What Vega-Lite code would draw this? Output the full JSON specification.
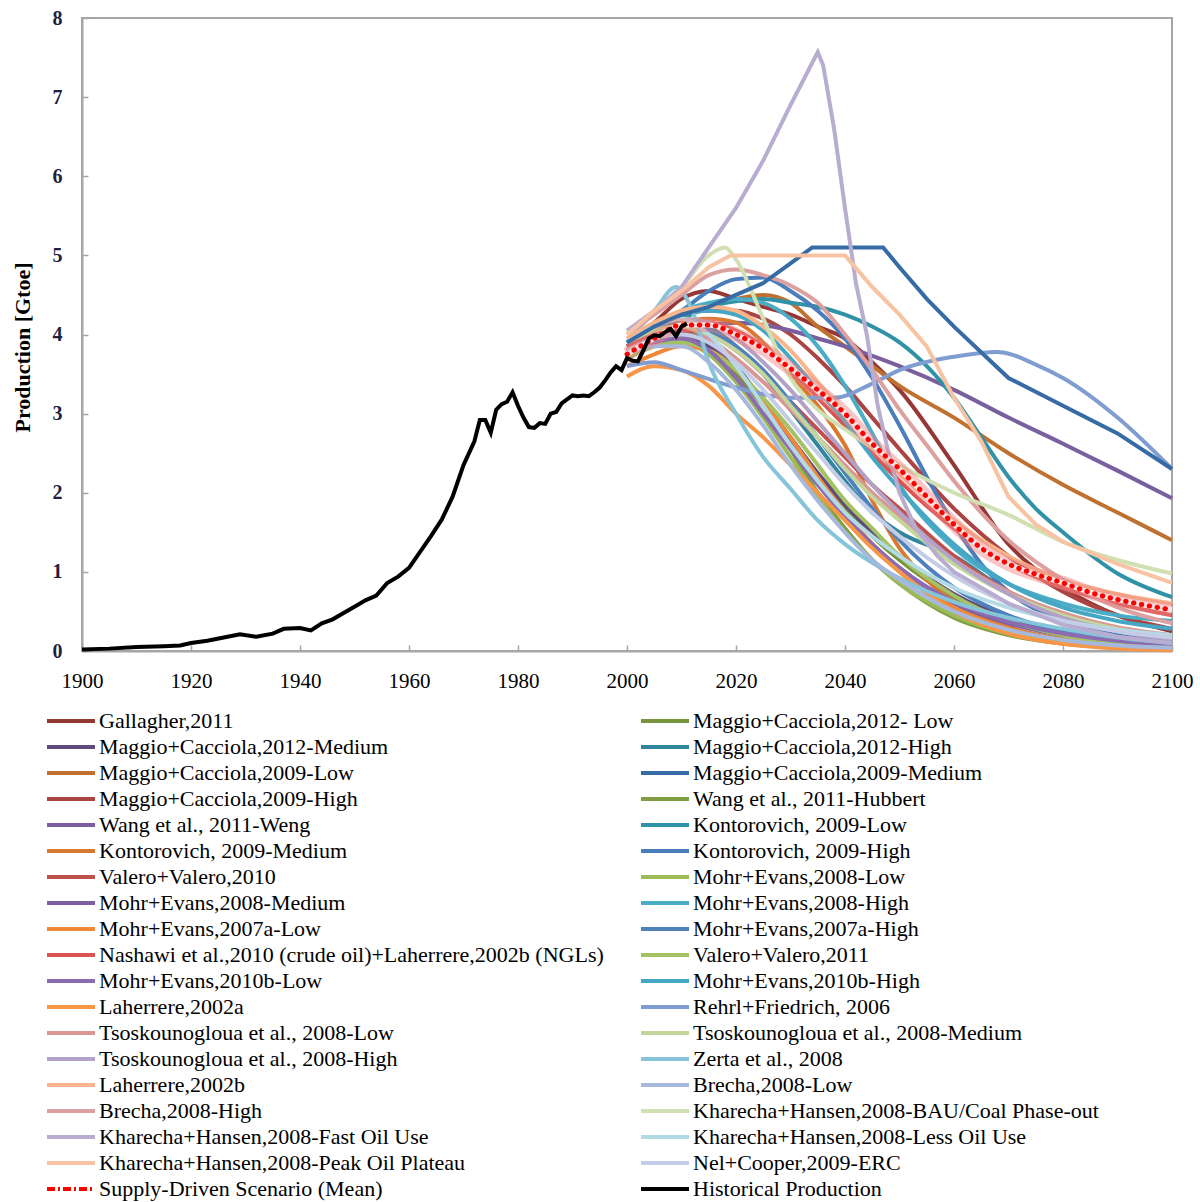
{
"$schema": "https://vega.github.io/schema/vega-lite/v6.json",
"width": 1090, "height": 633,
"autosize": {"type": "none"},
"padding": {"left": 82, "top": 18, "right": 28, "bottom": 551},
"config": {"font": "Liberation Serif", "view": {"stroke": "#a6a6a6", "strokeWidth": 2}},
"datasets": {"names": [
{"id":1,"name":"Gallagher,2011"},{"id":2,"name":"Maggio+Cacciola,2012- Low"},{"id":3,"name":"Maggio+Cacciola,2012-Medium"},{"id":4,"name":"Maggio+Cacciola,2012-High"},{"id":5,"name":"Maggio+Cacciola,2009-Low"},{"id":6,"name":"Maggio+Cacciola,2009-Medium"},{"id":7,"name":"Maggio+Cacciola,2009-High"},{"id":8,"name":"Wang et al., 2011-Hubbert"},{"id":9,"name":"Wang et al., 2011-Weng"},{"id":10,"name":"Kontorovich, 2009-Low"},{"id":11,"name":"Kontorovich, 2009-Medium"},{"id":12,"name":"Kontorovich, 2009-High"},{"id":13,"name":"Valero+Valero,2010"},{"id":14,"name":"Mohr+Evans,2008-Low"},{"id":15,"name":"Mohr+Evans,2008-Medium"},{"id":16,"name":"Mohr+Evans,2008-High"},{"id":17,"name":"Mohr+Evans,2007a-Low"},{"id":18,"name":"Mohr+Evans,2007a-High"},{"id":19,"name":"Nashawi et al.,2010 (crude oil)+Laherrere,2002b (NGLs)"},{"id":20,"name":"Valero+Valero,2011"},{"id":21,"name":"Mohr+Evans,2010b-Low"},{"id":22,"name":"Mohr+Evans,2010b-High"},{"id":23,"name":"Laherrere,2002a"},{"id":24,"name":"Rehrl+Friedrich,  2006"},{"id":25,"name":"Tsoskounogloua et al., 2008-Low"},{"id":26,"name":"Tsoskounogloua et al., 2008-Medium"},{"id":27,"name":"Tsoskounogloua et al., 2008-High"},{"id":28,"name":"Zerta et al., 2008"},{"id":29,"name":"Laherrere,2002b"},{"id":30,"name":"Brecha,2008-Low"},{"id":31,"name":"Brecha,2008-High"},{"id":32,"name":"Kharecha+Hansen,2008-BAU/Coal Phase-out"},{"id":33,"name":"Kharecha+Hansen,2008-Fast Oil Use"},{"id":34,"name":"Kharecha+Hansen,2008-Less Oil Use"},{"id":35,"name":"Kharecha+Hansen,2008-Peak Oil Plateau"},{"id":36,"name":"Nel+Cooper,2009-ERC"},{"id":37,"name":"Supply-Driven Scenario (Mean)"},{"id":38,"name":"Historical Production"}
]},
"data": {"values": [
{"id":1,"year":2000,"value":3.9},{"id":1,"year":2005,"value":4.15},{"id":1,"year":2010,"value":4.45},{"id":1,"year":2015,"value":4.55},{"id":1,"year":2020,"value":4.45},{"id":1,"year":2025,"value":4.35},{"id":1,"year":2030,"value":4.25},{"id":1,"year":2035,"value":4.1},{"id":1,"year":2040,"value":3.95},{"id":1,"year":2045,"value":3.65},{"id":1,"year":2050,"value":3.3},{"id":1,"year":2060,"value":2.35},{"id":1,"year":2070,"value":1.35},{"id":1,"year":2080,"value":0.8},{"id":1,"year":2090,"value":0.45},{"id":1,"year":2100,"value":0.25},
{"id":2,"year":2000,"value":3.85},{"id":2,"year":2005,"value":3.95},{"id":2,"year":2010,"value":3.95},{"id":2,"year":2015,"value":3.8},{"id":2,"year":2020,"value":3.5},{"id":2,"year":2025,"value":3.1},{"id":2,"year":2030,"value":2.65},{"id":2,"year":2035,"value":2.2},{"id":2,"year":2040,"value":1.8},{"id":2,"year":2045,"value":1.45},{"id":2,"year":2050,"value":1.15},{"id":2,"year":2060,"value":0.68},{"id":2,"year":2070,"value":0.38},{"id":2,"year":2080,"value":0.2},{"id":2,"year":2090,"value":0.11},{"id":2,"year":2100,"value":0.06},
{"id":3,"year":2000,"value":3.8},{"id":3,"year":2005,"value":3.95},{"id":3,"year":2010,"value":4.0},{"id":3,"year":2015,"value":3.85},{"id":3,"year":2020,"value":3.55},{"id":3,"year":2025,"value":3.15},{"id":3,"year":2030,"value":2.7},{"id":3,"year":2035,"value":2.25},{"id":3,"year":2040,"value":1.85},{"id":3,"year":2045,"value":1.5},{"id":3,"year":2050,"value":1.2},{"id":3,"year":2060,"value":0.72},{"id":3,"year":2070,"value":0.42},{"id":3,"year":2080,"value":0.25},{"id":3,"year":2090,"value":0.15},{"id":3,"year":2100,"value":0.09},
{"id":4,"year":2000,"value":3.9},{"id":4,"year":2005,"value":4.1},{"id":4,"year":2010,"value":4.2},{"id":4,"year":2015,"value":4.1},{"id":4,"year":2020,"value":3.85},{"id":4,"year":2025,"value":3.5},{"id":4,"year":2030,"value":3.05},{"id":4,"year":2035,"value":2.6},{"id":4,"year":2040,"value":2.15},{"id":4,"year":2045,"value":1.75},{"id":4,"year":2050,"value":1.5},{"id":4,"year":2060,"value":1.2},{"id":4,"year":2070,"value":0.75},{"id":4,"year":2080,"value":0.45},{"id":4,"year":2090,"value":0.28},{"id":4,"year":2100,"value":0.18},
{"id":5,"year":2000,"value":3.9},{"id":5,"year":2005,"value":4.05},{"id":5,"year":2010,"value":4.2},{"id":5,"year":2015,"value":4.35},{"id":5,"year":2020,"value":4.45},{"id":5,"year":2025,"value":4.5},{"id":5,"year":2030,"value":4.4},{"id":5,"year":2035,"value":4.1},{"id":5,"year":2040,"value":3.85},{"id":5,"year":2045,"value":3.6},{"id":5,"year":2050,"value":3.35},{"id":5,"year":2060,"value":2.95},{"id":5,"year":2070,"value":2.5},{"id":5,"year":2080,"value":2.1},{"id":5,"year":2090,"value":1.75},{"id":5,"year":2100,"value":1.4},
{"id":6,"year":2000,"value":3.9},{"id":6,"year":2005,"value":4.1},{"id":6,"year":2010,"value":4.25},{"id":6,"year":2015,"value":4.35},{"id":6,"year":2020,"value":4.5},{"id":6,"year":2025,"value":4.65},{"id":6,"year":2030,"value":4.9},{"id":6,"year":2034,"value":5.1},{"id":6,"year":2047,"value":5.1},{"id":6,"year":2050,"value":4.85},{"id":6,"year":2055,"value":4.45},{"id":6,"year":2060,"value":4.1},{"id":6,"year":2070,"value":3.45},{"id":6,"year":2080,"value":3.1},{"id":6,"year":2090,"value":2.75},{"id":6,"year":2100,"value":2.3},
{"id":7,"year":2000,"value":3.85},{"id":7,"year":2005,"value":4.05},{"id":7,"year":2010,"value":4.25},{"id":7,"year":2015,"value":4.3},{"id":7,"year":2020,"value":4.3},{"id":7,"year":2025,"value":4.2},{"id":7,"year":2030,"value":4.0},{"id":7,"year":2035,"value":3.7},{"id":7,"year":2040,"value":3.35},{"id":7,"year":2045,"value":2.95},{"id":7,"year":2050,"value":2.55},{"id":7,"year":2060,"value":1.8},{"id":7,"year":2070,"value":1.2},{"id":7,"year":2080,"value":0.75},{"id":7,"year":2090,"value":0.45},{"id":7,"year":2100,"value":0.28},
{"id":8,"year":2000,"value":3.8},{"id":8,"year":2005,"value":3.95},{"id":8,"year":2010,"value":4.05},{"id":8,"year":2015,"value":3.95},{"id":8,"year":2020,"value":3.6},{"id":8,"year":2025,"value":3.1},{"id":8,"year":2030,"value":2.55},{"id":8,"year":2035,"value":2.0},{"id":8,"year":2040,"value":1.55},{"id":8,"year":2045,"value":1.15},{"id":8,"year":2050,"value":0.85},{"id":8,"year":2060,"value":0.42},{"id":8,"year":2070,"value":0.2},{"id":8,"year":2080,"value":0.09},{"id":8,"year":2090,"value":0.04},{"id":8,"year":2100,"value":0.02},
{"id":9,"year":2000,"value":3.8},{"id":9,"year":2005,"value":3.95},{"id":9,"year":2010,"value":4.05},{"id":9,"year":2015,"value":4.12},{"id":9,"year":2020,"value":4.15},{"id":9,"year":2025,"value":4.12},{"id":9,"year":2030,"value":4.05},{"id":9,"year":2035,"value":3.95},{"id":9,"year":2040,"value":3.85},{"id":9,"year":2045,"value":3.73},{"id":9,"year":2050,"value":3.6},{"id":9,"year":2060,"value":3.3},{"id":9,"year":2070,"value":2.95},{"id":9,"year":2080,"value":2.62},{"id":9,"year":2090,"value":2.28},{"id":9,"year":2100,"value":1.93},
{"id":10,"year":2000,"value":3.9},{"id":10,"year":2005,"value":4.05},{"id":10,"year":2010,"value":4.2},{"id":10,"year":2015,"value":4.35},{"id":10,"year":2020,"value":4.42},{"id":10,"year":2025,"value":4.45},{"id":10,"year":2030,"value":4.4},{"id":10,"year":2035,"value":4.35},{"id":10,"year":2040,"value":4.25},{"id":10,"year":2045,"value":4.1},{"id":10,"year":2050,"value":3.9},{"id":10,"year":2055,"value":3.6},{"id":10,"year":2060,"value":3.2},{"id":10,"year":2065,"value":2.7},{"id":10,"year":2070,"value":2.2},{"id":10,"year":2075,"value":1.8},{"id":10,"year":2080,"value":1.5},{"id":10,"year":2090,"value":0.98},{"id":10,"year":2100,"value":0.68},
{"id":11,"year":2000,"value":3.85},{"id":11,"year":2005,"value":4.0},{"id":11,"year":2010,"value":4.15},{"id":11,"year":2015,"value":4.2},{"id":11,"year":2020,"value":4.15},{"id":11,"year":2025,"value":3.9},{"id":11,"year":2030,"value":3.5},{"id":11,"year":2035,"value":3.1},{"id":11,"year":2040,"value":2.6},{"id":11,"year":2045,"value":1.9},{"id":11,"year":2050,"value":1.3},{"id":11,"year":2055,"value":0.9},{"id":11,"year":2060,"value":0.62},{"id":11,"year":2070,"value":0.3},{"id":11,"year":2080,"value":0.15},{"id":11,"year":2090,"value":0.08},{"id":11,"year":2100,"value":0.04},
{"id":12,"year":2000,"value":3.9},{"id":12,"year":2005,"value":4.1},{"id":12,"year":2010,"value":4.3},{"id":12,"year":2015,"value":4.55},{"id":12,"year":2020,"value":4.7},{"id":12,"year":2025,"value":4.72},{"id":12,"year":2030,"value":4.55},{"id":12,"year":2035,"value":4.3},{"id":12,"year":2040,"value":3.95},{"id":12,"year":2045,"value":3.45},{"id":12,"year":2050,"value":2.85},{"id":12,"year":2055,"value":2.2},{"id":12,"year":2060,"value":1.6},{"id":12,"year":2065,"value":1.1},{"id":12,"year":2070,"value":0.75},{"id":12,"year":2080,"value":0.38},{"id":12,"year":2090,"value":0.2},{"id":12,"year":2100,"value":0.12},
{"id":13,"year":2000,"value":3.8},{"id":13,"year":2005,"value":3.95},{"id":13,"year":2010,"value":4.05},{"id":13,"year":2015,"value":4.0},{"id":13,"year":2020,"value":3.8},{"id":13,"year":2025,"value":3.5},{"id":13,"year":2030,"value":3.15},{"id":13,"year":2035,"value":2.8},{"id":13,"year":2040,"value":2.45},{"id":13,"year":2045,"value":2.1},{"id":13,"year":2050,"value":1.8},{"id":13,"year":2060,"value":1.2},{"id":13,"year":2070,"value":0.75},{"id":13,"year":2080,"value":0.45},{"id":13,"year":2090,"value":0.28},{"id":13,"year":2100,"value":0.18},
{"id":14,"year":2000,"value":3.7},{"id":14,"year":2005,"value":3.85},{"id":14,"year":2010,"value":3.9},{"id":14,"year":2015,"value":3.75},{"id":14,"year":2020,"value":3.4},{"id":14,"year":2025,"value":2.95},{"id":14,"year":2030,"value":2.45},{"id":14,"year":2035,"value":1.95},{"id":14,"year":2040,"value":1.5},{"id":14,"year":2045,"value":1.15},{"id":14,"year":2050,"value":0.85},{"id":14,"year":2060,"value":0.45},{"id":14,"year":2070,"value":0.22},{"id":14,"year":2080,"value":0.1},{"id":14,"year":2090,"value":0.05},{"id":14,"year":2100,"value":0.02},
{"id":15,"year":2000,"value":3.75},{"id":15,"year":2005,"value":3.9},{"id":15,"year":2010,"value":4.0},{"id":15,"year":2015,"value":3.9},{"id":15,"year":2020,"value":3.6},{"id":15,"year":2025,"value":3.15},{"id":15,"year":2030,"value":2.65},{"id":15,"year":2035,"value":2.15},{"id":15,"year":2040,"value":1.7},{"id":15,"year":2045,"value":1.35},{"id":15,"year":2050,"value":1.05},{"id":15,"year":2060,"value":0.6},{"id":15,"year":2070,"value":0.35},{"id":15,"year":2080,"value":0.2},{"id":15,"year":2090,"value":0.12},{"id":15,"year":2100,"value":0.08},
{"id":16,"year":2000,"value":3.9},{"id":16,"year":2005,"value":4.1},{"id":16,"year":2010,"value":4.3},{"id":16,"year":2015,"value":4.4},{"id":16,"year":2020,"value":4.45},{"id":16,"year":2025,"value":4.4},{"id":16,"year":2030,"value":4.2},{"id":16,"year":2035,"value":3.85},{"id":16,"year":2040,"value":3.35},{"id":16,"year":2045,"value":2.75},{"id":16,"year":2050,"value":2.1},{"id":16,"year":2060,"value":1.3},{"id":16,"year":2070,"value":0.85},{"id":16,"year":2080,"value":0.6},{"id":16,"year":2090,"value":0.45},{"id":16,"year":2100,"value":0.38},
{"id":17,"year":2000,"value":3.6},{"id":17,"year":2005,"value":3.75},{"id":17,"year":2010,"value":3.85},{"id":17,"year":2015,"value":3.8},{"id":17,"year":2020,"value":3.55},{"id":17,"year":2025,"value":3.15},{"id":17,"year":2030,"value":2.7},{"id":17,"year":2035,"value":2.2},{"id":17,"year":2040,"value":1.75},{"id":17,"year":2045,"value":1.35},{"id":17,"year":2050,"value":1.0},{"id":17,"year":2060,"value":0.55},{"id":17,"year":2070,"value":0.28},{"id":17,"year":2080,"value":0.14},{"id":17,"year":2090,"value":0.07},{"id":17,"year":2100,"value":0.04},
{"id":18,"year":2000,"value":3.85},{"id":18,"year":2005,"value":4.0},{"id":18,"year":2010,"value":4.1},{"id":18,"year":2015,"value":4.05},{"id":18,"year":2020,"value":3.85},{"id":18,"year":2025,"value":3.55},{"id":18,"year":2030,"value":3.15},{"id":18,"year":2035,"value":2.7},{"id":18,"year":2040,"value":2.25},{"id":18,"year":2045,"value":1.8},{"id":18,"year":2050,"value":1.4},{"id":18,"year":2060,"value":0.8},{"id":18,"year":2070,"value":0.45},{"id":18,"year":2080,"value":0.25},{"id":18,"year":2090,"value":0.15},{"id":18,"year":2100,"value":0.1},
{"id":19,"year":2000,"value":3.85},{"id":19,"year":2005,"value":4.0},{"id":19,"year":2010,"value":4.12},{"id":19,"year":2015,"value":4.15},{"id":19,"year":2020,"value":4.05},{"id":19,"year":2025,"value":3.85},{"id":19,"year":2030,"value":3.55},{"id":19,"year":2035,"value":3.2},{"id":19,"year":2040,"value":2.85},{"id":19,"year":2045,"value":2.5},{"id":19,"year":2050,"value":2.15},{"id":19,"year":2060,"value":1.55},{"id":19,"year":2070,"value":1.1},{"id":19,"year":2080,"value":0.8},{"id":19,"year":2090,"value":0.6},{"id":19,"year":2100,"value":0.45},
{"id":20,"year":2000,"value":3.7},{"id":20,"year":2005,"value":3.85},{"id":20,"year":2010,"value":3.9},{"id":20,"year":2015,"value":3.8},{"id":20,"year":2020,"value":3.55},{"id":20,"year":2025,"value":3.2},{"id":20,"year":2030,"value":2.8},{"id":20,"year":2035,"value":2.35},{"id":20,"year":2040,"value":1.9},{"id":20,"year":2045,"value":1.55},{"id":20,"year":2050,"value":1.2},{"id":20,"year":2060,"value":0.7},{"id":20,"year":2070,"value":0.38},{"id":20,"year":2080,"value":0.2},{"id":20,"year":2090,"value":0.1},{"id":20,"year":2100,"value":0.05},
{"id":21,"year":2000,"value":3.75},{"id":21,"year":2005,"value":3.9},{"id":21,"year":2010,"value":3.95},{"id":21,"year":2015,"value":3.8},{"id":21,"year":2020,"value":3.45},{"id":21,"year":2025,"value":3.0},{"id":21,"year":2030,"value":2.55},{"id":21,"year":2035,"value":2.1},{"id":21,"year":2040,"value":1.7},{"id":21,"year":2045,"value":1.35},{"id":21,"year":2050,"value":1.05},{"id":21,"year":2060,"value":0.62},{"id":21,"year":2070,"value":0.37},{"id":21,"year":2080,"value":0.22},{"id":21,"year":2090,"value":0.13},{"id":21,"year":2100,"value":0.08},
{"id":22,"year":2000,"value":3.9},{"id":22,"year":2005,"value":4.1},{"id":22,"year":2010,"value":4.25},{"id":22,"year":2015,"value":4.3},{"id":22,"year":2020,"value":4.25},{"id":22,"year":2025,"value":4.05},{"id":22,"year":2030,"value":3.7},{"id":22,"year":2035,"value":3.3},{"id":22,"year":2040,"value":2.9},{"id":22,"year":2045,"value":2.45},{"id":22,"year":2050,"value":2.05},{"id":22,"year":2060,"value":1.35},{"id":22,"year":2070,"value":0.85},{"id":22,"year":2080,"value":0.55},{"id":22,"year":2090,"value":0.38},{"id":22,"year":2100,"value":0.28},
{"id":23,"year":2000,"value":3.47},{"id":23,"year":2005,"value":3.6},{"id":23,"year":2010,"value":3.55},{"id":23,"year":2015,"value":3.35},{"id":23,"year":2020,"value":3.0},{"id":23,"year":2025,"value":2.7},{"id":23,"year":2030,"value":2.35},{"id":23,"year":2035,"value":2.0},{"id":23,"year":2040,"value":1.65},{"id":23,"year":2045,"value":1.3},{"id":23,"year":2050,"value":1.0},{"id":23,"year":2060,"value":0.5},{"id":23,"year":2070,"value":0.22},{"id":23,"year":2080,"value":0.09},{"id":23,"year":2090,"value":0.03},{"id":23,"year":2100,"value":0.01},
{"id":24,"year":2000,"value":3.6},{"id":24,"year":2005,"value":3.65},{"id":24,"year":2010,"value":3.55},{"id":24,"year":2020,"value":3.33},{"id":24,"year":2030,"value":3.2},{"id":24,"year":2038,"value":3.2},{"id":24,"year":2045,"value":3.38},{"id":24,"year":2050,"value":3.55},{"id":24,"year":2060,"value":3.72},{"id":24,"year":2068,"value":3.78},{"id":24,"year":2075,"value":3.62},{"id":24,"year":2080,"value":3.45},{"id":24,"year":2090,"value":2.95},{"id":24,"year":2100,"value":2.3},
{"id":25,"year":2000,"value":3.9},{"id":25,"year":2005,"value":4.05},{"id":25,"year":2010,"value":4.1},{"id":25,"year":2015,"value":3.95},{"id":25,"year":2020,"value":3.7},{"id":25,"year":2025,"value":3.4},{"id":25,"year":2030,"value":3.05},{"id":25,"year":2035,"value":2.7},{"id":25,"year":2040,"value":2.35},{"id":25,"year":2045,"value":2.0},{"id":25,"year":2050,"value":1.7},{"id":25,"year":2060,"value":1.15},{"id":25,"year":2070,"value":0.75},{"id":25,"year":2080,"value":0.48},{"id":25,"year":2090,"value":0.3},{"id":25,"year":2100,"value":0.2},
{"id":26,"year":2000,"value":3.9},{"id":26,"year":2005,"value":4.05},{"id":26,"year":2010,"value":4.1},{"id":26,"year":2015,"value":4.0},{"id":26,"year":2020,"value":3.8},{"id":26,"year":2025,"value":3.5},{"id":26,"year":2030,"value":3.1},{"id":26,"year":2035,"value":2.7},{"id":26,"year":2040,"value":2.3},{"id":26,"year":2045,"value":1.95},{"id":26,"year":2050,"value":1.65},{"id":26,"year":2060,"value":1.1},{"id":26,"year":2070,"value":0.72},{"id":26,"year":2080,"value":0.45},{"id":26,"year":2090,"value":0.28},{"id":26,"year":2100,"value":0.18},
{"id":27,"year":2000,"value":3.95},{"id":27,"year":2005,"value":4.1},{"id":27,"year":2010,"value":4.2},{"id":27,"year":2015,"value":4.15},{"id":27,"year":2020,"value":3.95},{"id":27,"year":2025,"value":3.65},{"id":27,"year":2030,"value":3.3},{"id":27,"year":2035,"value":2.9},{"id":27,"year":2040,"value":2.5},{"id":27,"year":2045,"value":2.1},{"id":27,"year":2050,"value":1.75},{"id":27,"year":2060,"value":1.15},{"id":27,"year":2070,"value":0.72},{"id":27,"year":2080,"value":0.42},{"id":27,"year":2090,"value":0.25},{"id":27,"year":2100,"value":0.15},
{"id":28,"year":2000,"value":3.9},{"id":28,"year":2005,"value":4.3},{"id":28,"year":2009,"value":4.6},{"id":28,"year":2012,"value":4.3},{"id":28,"year":2015,"value":3.65},{"id":28,"year":2020,"value":3.0},{"id":28,"year":2025,"value":2.45},{"id":28,"year":2030,"value":2.05},{"id":28,"year":2035,"value":1.65},{"id":28,"year":2040,"value":1.35},{"id":28,"year":2050,"value":0.92},{"id":28,"year":2060,"value":0.62},{"id":28,"year":2070,"value":0.42},{"id":28,"year":2080,"value":0.28},{"id":28,"year":2090,"value":0.17},{"id":28,"year":2100,"value":0.1},
{"id":29,"year":2000,"value":3.95},{"id":29,"year":2005,"value":4.15},{"id":29,"year":2010,"value":4.3},{"id":29,"year":2015,"value":4.35},{"id":29,"year":2020,"value":4.3},{"id":29,"year":2025,"value":4.1},{"id":29,"year":2030,"value":3.8},{"id":29,"year":2035,"value":3.4},{"id":29,"year":2040,"value":3.0},{"id":29,"year":2045,"value":2.6},{"id":29,"year":2050,"value":2.25},{"id":29,"year":2060,"value":1.65},{"id":29,"year":2070,"value":1.2},{"id":29,"year":2080,"value":0.9},{"id":29,"year":2090,"value":0.72},{"id":29,"year":2100,"value":0.6},
{"id":30,"year":2000,"value":3.75},{"id":30,"year":2005,"value":3.85},{"id":30,"year":2010,"value":3.85},{"id":30,"year":2015,"value":3.65},{"id":30,"year":2020,"value":3.3},{"id":30,"year":2025,"value":2.85},{"id":30,"year":2030,"value":2.35},{"id":30,"year":2035,"value":1.9},{"id":30,"year":2040,"value":1.5},{"id":30,"year":2045,"value":1.15},{"id":30,"year":2050,"value":0.9},{"id":30,"year":2060,"value":0.5},{"id":30,"year":2070,"value":0.27},{"id":30,"year":2080,"value":0.14},{"id":30,"year":2090,"value":0.07},{"id":30,"year":2100,"value":0.04},
{"id":31,"year":2000,"value":4.0},{"id":31,"year":2005,"value":4.25},{"id":31,"year":2010,"value":4.5},{"id":31,"year":2015,"value":4.75},{"id":31,"year":2020,"value":4.82},{"id":31,"year":2025,"value":4.75},{"id":31,"year":2030,"value":4.62},{"id":31,"year":2035,"value":4.4},{"id":31,"year":2040,"value":4.0},{"id":31,"year":2045,"value":3.55},{"id":31,"year":2050,"value":3.05},{"id":31,"year":2055,"value":2.6},{"id":31,"year":2060,"value":2.15},{"id":31,"year":2070,"value":1.4},{"id":31,"year":2080,"value":0.9},{"id":31,"year":2090,"value":0.55},{"id":31,"year":2100,"value":0.35},
{"id":32,"year":2000,"value":4.0},{"id":32,"year":2005,"value":4.3},{"id":32,"year":2010,"value":4.6},{"id":32,"year":2015,"value":5.0},{"id":32,"year":2018,"value":5.1},{"id":32,"year":2020,"value":4.95},{"id":32,"year":2025,"value":4.2},{"id":32,"year":2030,"value":3.45},{"id":32,"year":2035,"value":3.05},{"id":32,"year":2040,"value":2.8},{"id":32,"year":2050,"value":2.35},{"id":32,"year":2060,"value":2.0},{"id":32,"year":2070,"value":1.72},{"id":32,"year":2080,"value":1.38},{"id":32,"year":2090,"value":1.15},{"id":32,"year":2100,"value":0.98},
{"id":33,"year":2000,"value":4.05},{"id":33,"year":2005,"value":4.3},{"id":33,"year":2010,"value":4.6},{"id":33,"year":2015,"value":5.1},{"id":33,"year":2020,"value":5.6},{"id":33,"year":2025,"value":6.2},{"id":33,"year":2030,"value":6.9},{"id":33,"year":2035,"value":7.57},{"id":33,"year":2036,"value":7.4},{"id":33,"year":2038,"value":6.6},{"id":33,"year":2040,"value":5.6},{"id":33,"year":2042,"value":4.65},{"id":33,"year":2044,"value":4.0},{"id":33,"year":2046,"value":3.1},{"id":33,"year":2048,"value":2.5},{"id":33,"year":2050,"value":2.0},{"id":33,"year":2053,"value":1.55},{"id":33,"year":2057,"value":1.2},{"id":33,"year":2060,"value":1.0},{"id":33,"year":2070,"value":0.6},{"id":33,"year":2080,"value":0.33},{"id":33,"year":2090,"value":0.18},{"id":33,"year":2100,"value":0.1},
{"id":34,"year":2000,"value":3.9},{"id":34,"year":2005,"value":4.1},{"id":34,"year":2010,"value":4.2},{"id":34,"year":2015,"value":4.0},{"id":34,"year":2020,"value":3.6},{"id":34,"year":2025,"value":3.1},{"id":34,"year":2030,"value":2.6},{"id":34,"year":2035,"value":2.15},{"id":34,"year":2040,"value":1.75},{"id":34,"year":2045,"value":1.45},{"id":34,"year":2050,"value":1.2},{"id":34,"year":2060,"value":0.8},{"id":34,"year":2070,"value":0.55},{"id":34,"year":2080,"value":0.38},{"id":34,"year":2090,"value":0.27},{"id":34,"year":2100,"value":0.2},
{"id":35,"year":2000,"value":4.0},{"id":35,"year":2005,"value":4.3},{"id":35,"year":2010,"value":4.55},{"id":35,"year":2015,"value":4.85},{"id":35,"year":2019,"value":5.0},{"id":35,"year":2040,"value":5.0},{"id":35,"year":2045,"value":4.6},{"id":35,"year":2050,"value":4.25},{"id":35,"year":2055,"value":3.85},{"id":35,"year":2060,"value":3.2},{"id":35,"year":2065,"value":2.65},{"id":35,"year":2070,"value":1.95},{"id":35,"year":2075,"value":1.6},{"id":35,"year":2080,"value":1.38},{"id":35,"year":2090,"value":1.1},{"id":35,"year":2100,"value":0.86},
{"id":36,"year":2000,"value":3.8},{"id":36,"year":2005,"value":3.95},{"id":36,"year":2010,"value":4.0},{"id":36,"year":2015,"value":3.9},{"id":36,"year":2020,"value":3.65},{"id":36,"year":2025,"value":3.3},{"id":36,"year":2030,"value":2.9},{"id":36,"year":2035,"value":2.5},{"id":36,"year":2040,"value":2.1},{"id":36,"year":2045,"value":1.75},{"id":36,"year":2050,"value":1.45},{"id":36,"year":2060,"value":0.95},{"id":36,"year":2070,"value":0.6},{"id":36,"year":2080,"value":0.38},{"id":36,"year":2090,"value":0.25},{"id":36,"year":2100,"value":0.17},
{"id":37,"year":2000,"value":3.75},{"id":37,"year":2005,"value":3.95},{"id":37,"year":2010,"value":4.12},{"id":37,"year":2015,"value":4.12},{"id":37,"year":2020,"value":4.0},{"id":37,"year":2025,"value":3.82},{"id":37,"year":2030,"value":3.57},{"id":37,"year":2035,"value":3.3},{"id":37,"year":2040,"value":3.0},{"id":37,"year":2045,"value":2.62},{"id":37,"year":2050,"value":2.3},{"id":37,"year":2055,"value":1.95},{"id":37,"year":2060,"value":1.6},{"id":37,"year":2065,"value":1.3},{"id":37,"year":2070,"value":1.1},{"id":37,"year":2075,"value":0.97},{"id":37,"year":2080,"value":0.86},{"id":37,"year":2085,"value":0.74},{"id":37,"year":2090,"value":0.65},{"id":37,"year":2095,"value":0.58},{"id":37,"year":2100,"value":0.52},
{"id":38,"year":1900,"value":0.02},{"id":38,"year":1905,"value":0.03},{"id":38,"year":1910,"value":0.05},{"id":38,"year":1915,"value":0.06},{"id":38,"year":1918,"value":0.07},{"id":38,"year":1920,"value":0.1},{"id":38,"year":1923,"value":0.13},{"id":38,"year":1926,"value":0.17},{"id":38,"year":1929,"value":0.21},{"id":38,"year":1932,"value":0.18},{"id":38,"year":1935,"value":0.22},{"id":38,"year":1937,"value":0.28},{"id":38,"year":1940,"value":0.29},{"id":38,"year":1942,"value":0.26},{"id":38,"year":1944,"value":0.35},{"id":38,"year":1946,"value":0.4},{"id":38,"year":1948,"value":0.48},{"id":38,"year":1950,"value":0.56},{"id":38,"year":1952,"value":0.64},{"id":38,"year":1954,"value":0.7},{"id":38,"year":1956,"value":0.86},{"id":38,"year":1958,"value":0.94},{"id":38,"year":1960,"value":1.05},{"id":38,"year":1962,"value":1.25},{"id":38,"year":1964,"value":1.45},{"id":38,"year":1966,"value":1.66},{"id":38,"year":1968,"value":1.95},{"id":38,"year":1970,"value":2.35},{"id":38,"year":1972,"value":2.65},{"id":38,"year":1973,"value":2.92},{"id":38,"year":1974,"value":2.92},{"id":38,"year":1975,"value":2.76},{"id":38,"year":1976,"value":3.05},{"id":38,"year":1977,"value":3.12},{"id":38,"year":1978,"value":3.15},{"id":38,"year":1979,"value":3.27},{"id":38,"year":1980,"value":3.1},{"id":38,"year":1981,"value":2.95},{"id":38,"year":1982,"value":2.83},{"id":38,"year":1983,"value":2.82},{"id":38,"year":1984,"value":2.88},{"id":38,"year":1985,"value":2.87},{"id":38,"year":1986,"value":3.0},{"id":38,"year":1987,"value":3.02},{"id":38,"year":1988,"value":3.13},{"id":38,"year":1989,"value":3.18},{"id":38,"year":1990,"value":3.23},{"id":38,"year":1991,"value":3.22},{"id":38,"year":1992,"value":3.23},{"id":38,"year":1993,"value":3.22},{"id":38,"year":1994,"value":3.27},{"id":38,"year":1995,"value":3.33},{"id":38,"year":1996,"value":3.42},{"id":38,"year":1997,"value":3.52},{"id":38,"year":1998,"value":3.6},{"id":38,"year":1999,"value":3.55},{"id":38,"year":2000,"value":3.7},{"id":38,"year":2001,"value":3.67},{"id":38,"year":2002,"value":3.66},{"id":38,"year":2003,"value":3.8},{"id":38,"year":2004,"value":3.95},{"id":38,"year":2005,"value":3.99},{"id":38,"year":2006,"value":3.98},{"id":38,"year":2007,"value":4.03},{"id":38,"year":2008,"value":4.07},{"id":38,"year":2009,"value":3.98},{"id":38,"year":2010,"value":4.1},{"id":38,"year":2011,"value":4.14}
]},
"transform": [{"lookup": "id", "from": {"data": {"name": "names"}, "key": "id", "fields": ["name"]}}],
"encoding": {
  "x": {"field": "year", "type": "quantitative", "scale": {"domain": [1900, 2100], "nice": false},
        "axis": {"values": [1900,1920,1940,1960,1980,2000,2020,2040,2060,2080,2100], "format": "d", "title": null, "grid": false,
                 "domainColor": "#a6a6a6", "domainWidth": 2, "tickColor": "#a6a6a6", "tickWidth": 1.5, "tickSize": -6,
                 "labelPadding": 25, "labelFont": "Liberation Serif", "labelFontSize": 21, "labelColor": "#000000", "labelFlush": false, "labelOverlap": false}},
  "y": {"field": "value", "type": "quantitative", "scale": {"domain": [0, 8], "nice": false},
        "axis": {"values": [0,1,2,3,4,5,6,7,8], "title": "Production [Gtoe]", "grid": false,
                 "domainColor": "#a6a6a6", "domainWidth": 2, "tickColor": "#a6a6a6", "tickWidth": 1.5, "tickSize": -6,
                 "labelPadding": 26, "labelFont": "Liberation Serif", "labelFontSize": 20, "labelFontWeight": "bold", "labelColor": "#1f1f3f", "labelFlush": false,
                 "titleFont": "Liberation Serif", "titleFontSize": 22, "titleFontWeight": "bold", "titleColor": "#000000", "titlePadding": 18, "titleY": 329}}
},
"layer": [
  {"transform": [{"filter": "datum.id <= 36 && datum.id != 6 && datum.id != 33 && datum.id != 35"}],
   "mark": {"type": "line", "strokeWidth": 4, "interpolate": "monotone"},
   "encoding": {"color": {"field": "name", "type": "nominal",
     "scale": {"domain": ["Gallagher,2011","Maggio+Cacciola,2012-Medium","Maggio+Cacciola,2009-Low","Maggio+Cacciola,2009-High","Wang et al., 2011-Weng","Kontorovich, 2009-Medium","Valero+Valero,2010","Mohr+Evans,2008-Medium","Mohr+Evans,2007a-Low","Nashawi et al.,2010 (crude oil)+Laherrere,2002b (NGLs)","Mohr+Evans,2010b-Low","Laherrere,2002a","Tsoskounogloua et al., 2008-Low","Tsoskounogloua et al., 2008-High","Laherrere,2002b","Brecha,2008-High","Kharecha+Hansen,2008-Fast Oil Use","Kharecha+Hansen,2008-Peak Oil Plateau","Supply-Driven Scenario (Mean)","Maggio+Cacciola,2012- Low","Maggio+Cacciola,2012-High","Maggio+Cacciola,2009-Medium","Wang et al., 2011-Hubbert","Kontorovich, 2009-Low","Kontorovich, 2009-High","Mohr+Evans,2008-Low","Mohr+Evans,2008-High","Mohr+Evans,2007a-High","Valero+Valero,2011","Mohr+Evans,2010b-High","Rehrl+Friedrich,  2006","Tsoskounogloua et al., 2008-Medium","Zerta et al., 2008","Brecha,2008-Low","Kharecha+Hansen,2008-BAU/Coal Phase-out","Kharecha+Hansen,2008-Less Oil Use","Nel+Cooper,2009-ERC","Historical Production"],
               "range": ["#953735","#604a7b","#c0712f","#aa4543","#7a5e9e","#d9782f","#c0504d","#7d60a0","#f0883a","#d9534f","#8b6cb0","#f79646","#d99694","#b3a2c7","#fab68a","#dda0a0","#b9acd1","#f8c3a3","#ff0000","#77933c","#31859c","#376ba5","#809e41","#2f92a7","#4a7dbb","#9bbb59","#4bacc6","#4f81bd","#a4c263","#45a7c3","#7f9dd0","#c3d69b","#86c5d9","#a6b8dc","#d1e0b3","#b2dbe6","#c4cde5","#000000"]},
     "legend": {"orient": "none", "legendX": -41, "legendY": 692, "columns": 2, "title": null, "padding": 0,
                "symbolType": "M-1,0H8.6", "symbolSize": 100, "symbolStrokeWidth": 4, "symbolOpacity": 1,
                "labelFont": "Liberation Serif", "labelFontSize": 22, "labelColor": "#000000", "labelOffset": 36, "labelLimit": 700,
                "rowPadding": 4, "columnPadding": 29, "symbolLimit": 50,
                "encode": {"symbols": {"update": {"strokeDash": {"signal": "datum.label === 'Supply-Driven Scenario (Mean)' ? [8,3,2,3] : [1,0]"}}}}}}}},
  {"transform": [{"filter": "datum.id == 6 || datum.id == 33 || datum.id == 35"}],
   "mark": {"type": "line", "strokeWidth": 4, "interpolate": "linear"},
   "encoding": {"color": {"field": "name", "type": "nominal"}}},
  {"transform": [{"filter": "datum.id == 37"}], "mark": {"type": "line", "color": "#f08080", "strokeWidth": 14, "opacity": 0.45, "interpolate": "monotone"}, "encoding": {}},
  {"transform": [{"filter": "datum.id == 37"}], "mark": {"type": "line", "color": "#fde4e4", "strokeWidth": 5, "interpolate": "monotone"}, "encoding": {}},
  {"transform": [{"filter": "datum.id == 37"}], "mark": {"type": "line", "color": "#ff0000", "strokeWidth": 5, "strokeDash": [0.5, 7.5], "strokeCap": "round", "interpolate": "monotone"}, "encoding": {}},
  {"transform": [{"filter": "datum.id == 38"}], "mark": {"type": "line", "color": "#000000", "strokeWidth": 4}, "encoding": {}}
]
}
